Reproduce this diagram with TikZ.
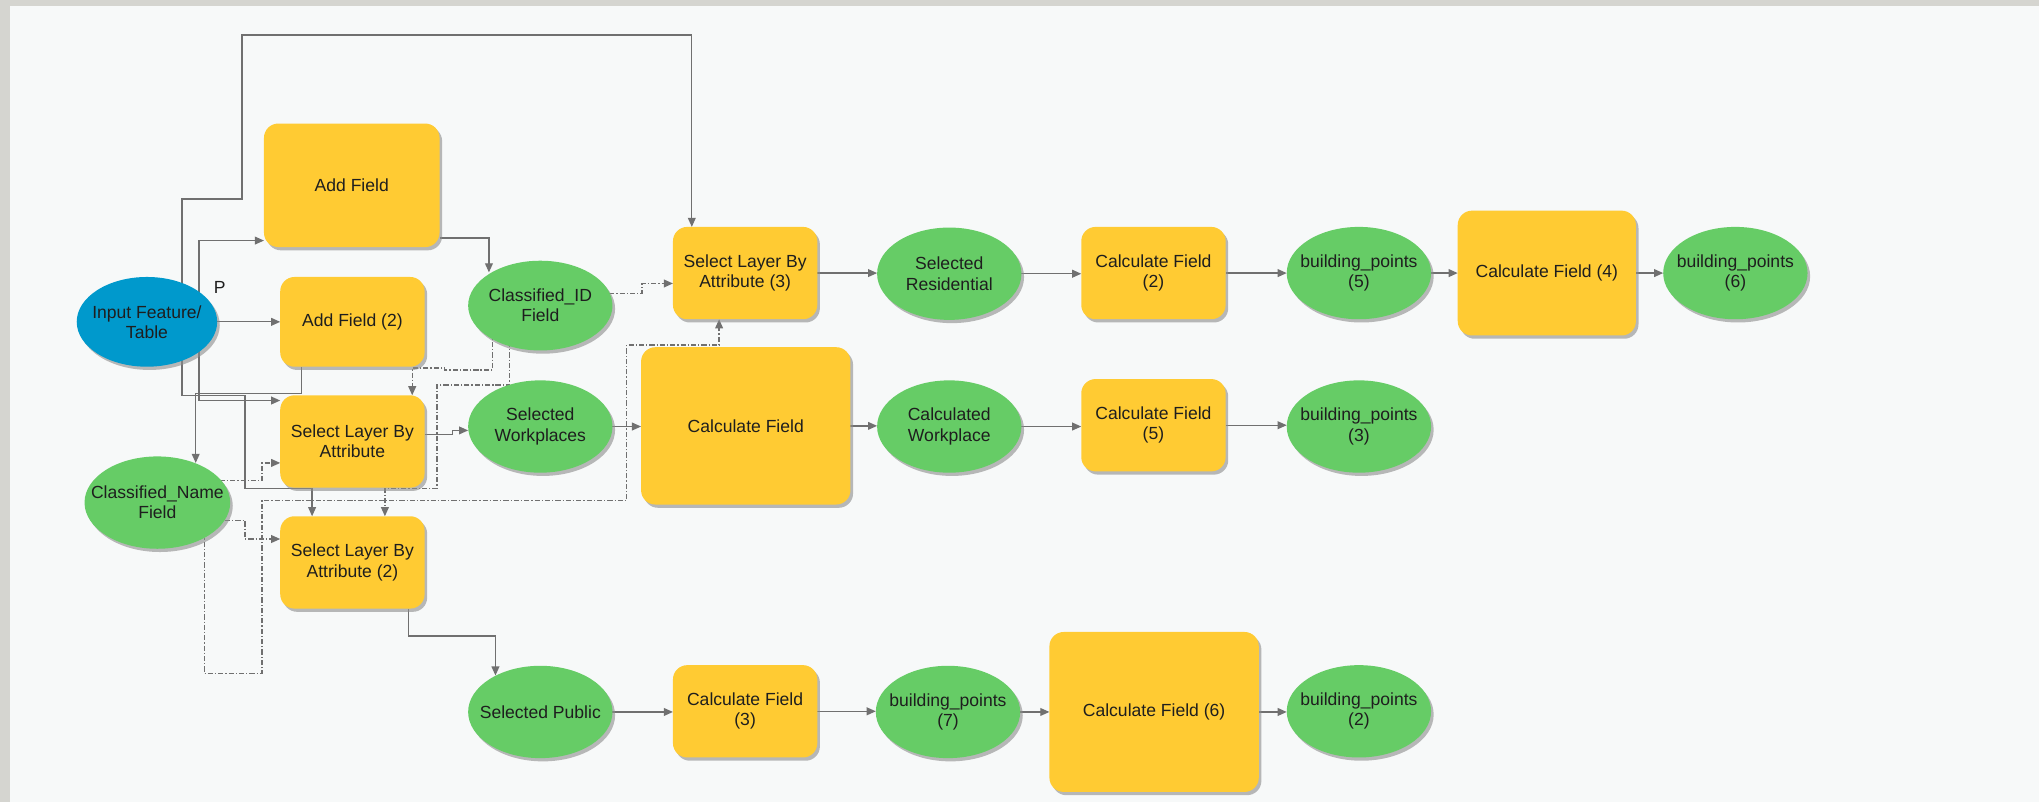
\documentclass[tikz,border=0pt]{standalone}
\usepackage{fontspec}
\setmainfont{Liberation Sans}
\usetikzlibrary{arrows.meta,shapes.geometric,shadows,calc}
\definecolor{ytool}{RGB}{255,203,51}
\definecolor{gdat}{RGB}{102,204,102}
\definecolor{binp}{RGB}{0,153,204}
\definecolor{canvas}{RGB}{247,249,249}
\definecolor{framec}{RGB}{213,213,208}
\definecolor{wire}{RGB}{112,112,112}
\definecolor{txt}{RGB}{30,30,30}
\pgfdeclarelayer{bg}\pgfdeclarelayer{edges}\pgfsetlayers{bg,edges,main}
\begin{document}
\begin{tikzpicture}[x=1pt,y=-1pt,
  shad/.style={drop shadow={shadow xshift=2pt,shadow yshift=-2.5pt,fill=black!45,opacity=0.6}},
  lbl/.style={font=\fontsize{13.5}{15.5}\selectfont,text=txt,align=center},
  toolbox/.style={rectangle,rounded corners=11pt,fill=ytool,shad,lbl,minimum width=111pt,minimum height=71pt,inner sep=2pt,outer sep=0pt},
  bigtool/.style={toolbox,minimum width=161pt,minimum height=121pt},
  databox/.style={ellipse,fill=gdat,shad,lbl,minimum width=111pt,minimum height=71pt,inner xsep=-30pt,inner ysep=0pt,outer sep=0pt},
  wire/.style={draw=wire,line width=1pt,-{Triangle[length=7pt,width=6pt]}},
  pre/.style={wire,dash pattern=on 4pt off 1.5pt on 1pt off 1.5pt}]
\useasboundingbox (0,0) rectangle (1568,617);
\begin{pgfonlayer}{bg}
\fill[canvas] (0,0) rectangle (1568,617);
\fill[framec] (0,0) rectangle (1568,4.4);
\fill[framec] (0,0) rectangle (7.7,617);
\end{pgfonlayer}

% nodes
\node[databox,fill=binp,minimum width=108pt,minimum height=69pt] (inp) at (113,247.5) {Input Feature/\\Table};
\node[lbl] (plabel) at (169,221) {P};
\node[toolbox,minimum width=135pt,minimum height=95pt] (af) at (270.5,142.5) {Add Field};
\node[toolbox,minimum height=69pt] (af2) at (271,247.5) {Add Field (2)};
\node[databox,minimum height=69pt] (cid) at (415.5,235) {Classified\_ID\\Field};
\node[toolbox] (slba) at (271,339.5) {Select Layer By\\Attribute};
\node[databox] (sw) at (415.5,328) {Selected\\Workplaces};
\node[databox,minimum width=112pt] (cn) at (121,386.5) {Classified\_Name\\Field};
\node[toolbox] (slba2) at (271,432.5) {Select Layer By\\Attribute (2)};
\node[databox] (sp) at (415.5,547.5) {Selected Public};
\node[toolbox] (slba3) at (573,210) {Select Layer By\\Attribute (3)};
\node[bigtool] (cf) at (573.5,327.5) {Calculate Field};
\node[databox] (sr) at (730,210.5) {Selected\\Residential};
\node[databox] (cw) at (730,328) {Calculated\\Workplace};
\node[toolbox] (cf2) at (887,210) {Calculate Field\\(2)};
\node[toolbox] (cf5) at (887,327) {Calculate Field\\(5)};
\node[databox] (bp5) at (1045,210) {building\_points\\(5)};
\node[databox] (bp3) at (1045,328) {building\_points\\(3)};
\node[toolbox,minimum width=137pt,minimum height=96pt] (cf4) at (1189.5,210) {Calculate Field (4)};
\node[databox] (bp6) at (1334.5,210) {building\_points\\(6)};
\node[toolbox] (cf3) at (573,547) {Calculate Field\\(3)};
\node[databox] (bp7) at (729,547.5) {building\_points\\(7)};
\node[bigtool,minimum height=123pt] (cf6) at (887.5,547.5) {Calculate Field (6)};
\node[databox] (bp2) at (1045,547) {building\_points\\(2)};

\begin{pgfonlayer}{edges}
% solid connectors
\draw[wire] ($(inp.center)+(27,0)$) -- (140,153) -- (186,153) -- (186,27) -- (532,27) -- ([xshift=-41pt]slba3.north);
\draw[wire] ($(inp.center)+(40,0)$) |- ([yshift=-42.5pt]af.west);
\draw[wire] (inp.east) -- (af2.west);
\draw[wire] ($(inp.center)+(40,0)$) |- ([yshift=31.5pt]slba.west);
\draw[wire] ($(inp.center)+(27,0)$) -- (140,304) -- (188.5,304) -- (188.5,375.5) -- (240,375.5) -- ([xshift=-31pt]slba2.north);
\draw[wire] ([xshift=-39pt]af2.south) |- (150.5,302.5) -- ($(cn.center)+(29.5,-30.5)$);
\draw[wire] ([yshift=-40.5pt]af.east) -| ($(cid.center)+(-39.5,-25.5)$);
\draw[wire] ([yshift=5.5pt]slba.east) -- ++(21.5,0) -- ++(0,-3) -- ([yshift=-3pt]sw.west);
\draw[wire] ([xshift=43pt]slba2.south) |- (381,489) -- ($(sp.center)+(-34.5,-28)$);
\draw[wire] (slba3.east) -- (slba3.east -| sr.west);
\draw[wire] (sr.east) -- (sr.east -| cf2.west);
\draw[wire] (cf2.east) -- (cf2.east -| bp5.west);
\draw[wire] (bp5.east) -- (bp5.east -| cf4.west);
\draw[wire] (cf4.east) -- (cf4.east -| bp6.west);
\draw[wire] (sw.east) -- (sw.east -| cf.west);
\draw[wire] (cf.east) -- (cf.east -| cw.west);
\draw[wire] (cw.east) -- (cw.east -| cf5.west);
\draw[wire] (cf5.east) -- (cf5.east -| bp3.west);
\draw[wire] (sp.east) -- (sp.east -| cf3.west);
\draw[wire] (cf3.east) -- (cf3.east -| bp7.west);
\draw[wire] (bp7.east) -- (bp7.east -| cf6.west);
\draw[wire] (cf6.east) -- (cf6.east -| bp2.west);
% precondition connectors
\draw[pre] ($(cid.center)+(53,-9.3)$) -- (493.7,225.7) -- (493.7,218) -- ([yshift=-8pt]slba3.west);
\draw[pre] ($(cid.center)+(-37,20)$) -- (378.5,284.5) -- (342,284.5) -- (342,283) -- (317,283) -- ([xshift=46pt]slba.north);
\draw[pre] ($(cid.center)+(-23.5,20)$) -- (392,296) -- (336,296) -- (336,375.5) -- (296,375.5) -- ([xshift=25pt]slba2.north);
\draw[pre] ($(cn.center)+(40,-17)$) -- (201.5,369.5) -- (201.5,356) -- ([yshift=-16.5pt]slba.west);
\draw[pre] ($(cn.center)+(44,14)$) -- (188.5,400.5) -- (188.5,414.5) -- ([yshift=18pt]slba2.west);
\draw[pre] ($(cn.center)+(36,14)$) -- (157,517.7) -- (201.5,517.7) -- (201.5,385) -- (482,385) -- (482,265.3) -- (553,265.3) -- ([xshift=-20pt]slba3.south);
\end{pgfonlayer}
\end{tikzpicture}
\end{document}
